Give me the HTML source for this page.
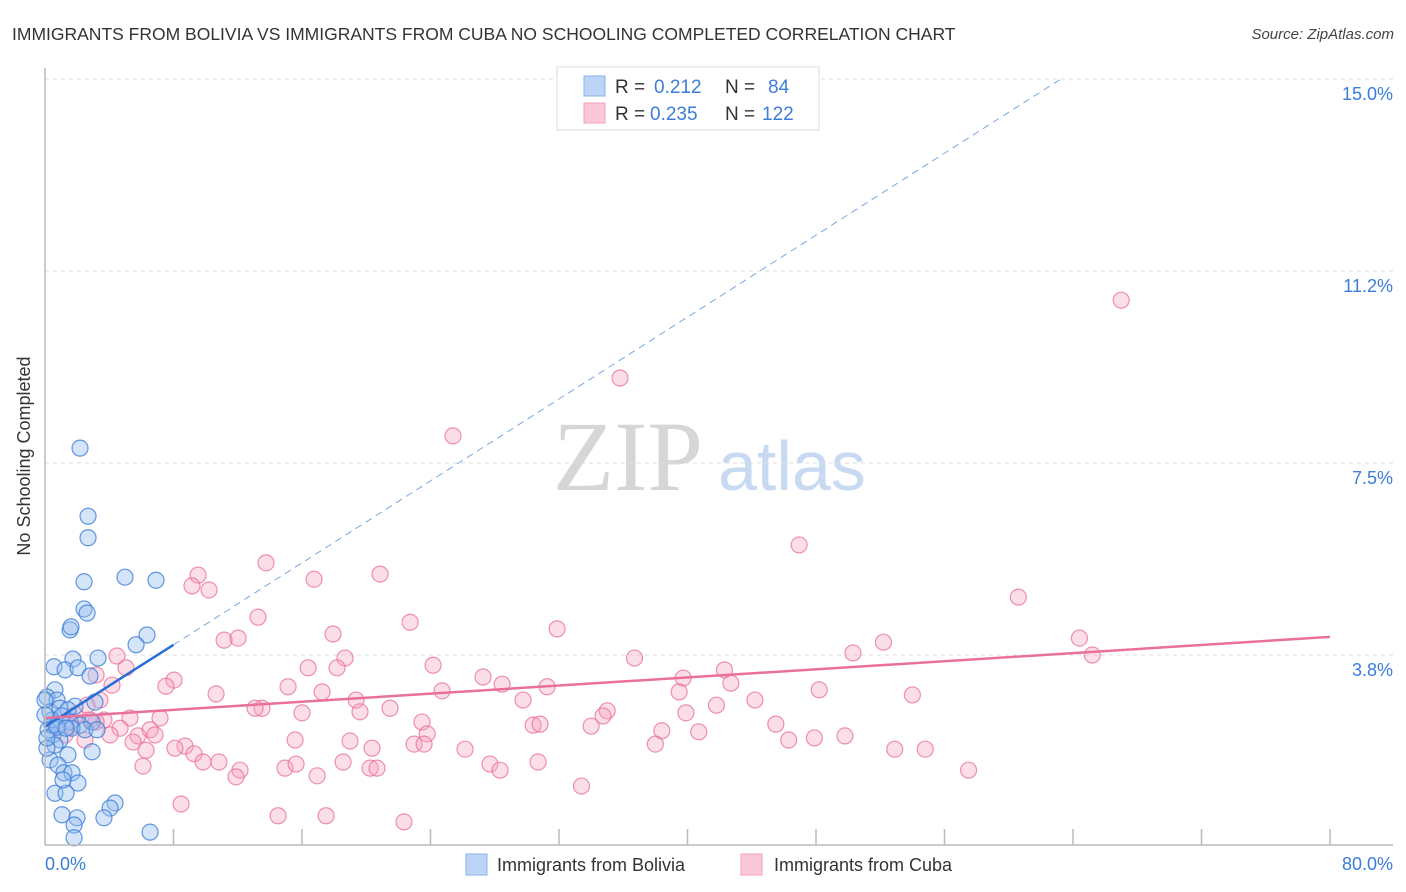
<!DOCTYPE html>
<html><head><meta charset="utf-8"><style>
body{margin:0;background:#fff;font-family:"Liberation Sans",sans-serif}
#c{position:relative;width:1406px;height:892px;overflow:hidden}
svg text{font-family:"Liberation Sans",sans-serif}
</style></head><body>
<div id="c">
<svg id="s" width="1406" height="892" xmlns="http://www.w3.org/2000/svg">
<text x="12" y="40" font-size="17.5" fill="#333">IMMIGRANTS FROM BOLIVIA VS IMMIGRANTS FROM CUBA NO SCHOOLING COMPLETED CORRELATION CHART</text>
<text x="1394" y="39" font-size="15" fill="#444" text-anchor="end" font-style="italic">Source: ZipAtlas.com</text>
<text x="30" y="456" font-size="18" fill="#333" text-anchor="middle" transform="rotate(-90 30 456)">No Schooling Completed</text>
<text x="553" y="490" font-size="100" fill="#d6d6d6" font-family="Liberation Serif" style="font-family:'Liberation Serif',serif">ZIP</text>
<text x="718" y="490" font-size="70" fill="#c8daf2">atlas</text>
<g id="grid"></g><g id="pts"></g><g id="trend"></g>
<line x1="45" y1="68" x2="45" y2="845" stroke="#bbb" stroke-width="1.5"/>
<line x1="45" y1="845" x2="1393" y2="845" stroke="#bbb" stroke-width="1.5"/>
<g id="ticks"></g>
<text x="45" y="870" font-size="18" fill="#3b7dd8">0.0%</text>
<text x="1393" y="870" font-size="18" fill="#3b7dd8" text-anchor="end">80.0%</text>
<g>
<rect x="557" y="67" width="262" height="63" fill="#fff" stroke="#ddd"/>
<rect x="584" y="76" width="21" height="20" fill="#bcd4f5" stroke="#8ab2ea"/>
<rect x="584" y="103" width="21" height="20" fill="#fbc8d8" stroke="#f0a0ba"/>
<text x="615" y="93" font-size="19" fill="#333">R = </text><text x="654" y="93" font-size="19" fill="#3b7dd8">0.212</text>
<text x="725" y="93" font-size="19" fill="#333">N = </text><text x="768" y="93" font-size="19" fill="#3b7dd8">84</text>
<text x="615" y="120" font-size="19" fill="#333">R = </text><text x="650" y="120" font-size="19" fill="#3b7dd8">0.235</text>
<text x="725" y="120" font-size="19" fill="#333">N = </text><text x="762" y="120" font-size="19" fill="#3b7dd8">122</text>
</g>
<g>
<rect x="466" y="854" width="21" height="21" fill="#bcd4f5" stroke="#8ab2ea"/>
<text x="497" y="871" font-size="18" fill="#333">Immigrants from Bolivia</text>
<rect x="741" y="854" width="21" height="21" fill="#fbc8d8" stroke="#f0a0ba"/>
<text x="774" y="871" font-size="18" fill="#333">Immigrants from Cuba</text>
</g>
</svg></div>
<script>
const yTicks=[3.75,7.5,11.25,15];
const yTickLabels=["3.8%","7.5%","11.2%","15.0%"];
const xTicks=[0,8,16,24,32,40,48,56,64,72,80];
const boliviaX=[2.18,2.68,2.68,2.43,4.98,6.91,2.43,2.62,1.56,1.62,6.35,5.67,3.30,1.74,0.56,1.25,2.05,2.80,0.62,0.12,0.75,3.11,1.87,0.31,0.93,1.43,0.44,0.81,1.06,1.56,2.18,2.93,0.19,0.50,0.93,1.68,2.49,3.24,0.62,1.43,2.93,0.31,0.81,1.18,1.68,2.05,0.62,1.31,1.12,4.36,4.05,3.67,1.06,1.99,1.81,6.54,1.81,0.12,0.44,0.75,1.31,0.0,0.0,0.12];
const boliviaY=[7.79,6.46,6.04,5.18,5.27,5.21,4.65,4.57,4.24,4.30,4.14,3.95,3.69,3.67,3.52,3.46,3.50,3.34,3.07,2.93,2.87,2.83,2.75,2.64,2.71,2.68,2.48,2.40,2.56,2.44,2.38,2.44,2.29,2.19,2.09,2.32,2.29,2.29,1.99,1.80,1.86,1.70,1.60,1.45,1.45,1.25,1.05,1.05,1.31,0.86,0.76,0.57,0.63,0.57,0.43,0.29,0.18,1.93,2.38,2.34,2.32,2.87,2.58,2.13];
const cubaX=[67.0,35.8,25.4,46.95,13.76,9.53,9.15,10.21,16.75,20.86,60.6,13.26,22.73,31.88,17.93,11.15,12.02,64.4,52.2,50.3,65.2,36.7,18.68,24.16,16.38,18.18,42.3,4.48,5.04,8.03,7.53,3.18,4.17,15.13,17.25,24.72,27.27,28.46,31.26,39.73,39.48,42.7,48.2,54.0,10.65,19.37,13.51,13.08,16.0,19.61,21.48,29.76,41.8,44.2,39.9,35.0,34.74,23.47,30.39,30.82,34.0,7.16,5.29,3.67,3.18,4.67,6.54,6.85,5.79,15.57,18.99,23.79,22.98,23.6,26.15,20.36,38.4,40.7,45.5,49.8,47.9,46.3,38.0,6.29,5.48,8.72,8.09,9.28,9.84,10.83,12.14,11.89,6.10,14.94,15.63,16.94,18.56,20.24,20.67,27.7,28.33,30.7,52.9,54.8,57.5,33.4,8.47,14.51,17.5,22.35,2.62,3.42,2.80,1.68,1.25,1.87,4.05,2.49];
const cubaY=[10.68,9.16,8.03,5.90,5.55,5.31,5.10,5.02,5.23,5.33,4.88,4.49,4.39,4.26,4.16,4.04,4.08,4.08,4.00,3.79,3.75,3.69,3.69,3.55,3.50,3.50,3.46,3.73,3.50,3.26,3.14,3.36,3.16,3.13,3.03,3.05,3.32,3.18,3.13,3.30,3.03,3.20,3.07,2.97,2.99,2.87,2.71,2.71,2.62,2.64,2.71,2.87,2.77,2.87,2.62,2.66,2.56,2.44,2.38,2.40,2.36,2.52,2.52,2.48,2.44,2.32,2.29,2.19,2.17,2.09,2.07,2.21,2.01,2.01,1.91,1.93,2.27,2.25,2.40,2.17,2.13,2.09,2.01,1.89,2.05,1.97,1.93,1.82,1.66,1.66,1.50,1.37,1.58,1.54,1.62,1.39,1.66,1.54,1.54,1.62,1.50,1.66,1.91,1.91,1.50,1.19,0.84,0.61,0.61,0.49,2.77,2.87,2.48,2.36,2.19,2.58,2.19,2.09];
const boliviaTrend=[2.35,0.2];
const cubaTrend=[2.52,0.0198];
const X=v=>45+v*16.0625, Y=v=>847-v*51.2;
const NS="http://www.w3.org/2000/svg";
function mk(t,a,p){const e=document.createElementNS(NS,t);for(const k in a)e.setAttribute(k,a[k]);p.appendChild(e);return e;}
const grid=document.getElementById('grid');
yTicks.forEach((t,i)=>{
 const l=mk('line',{x1:45,x2:1393,y1:Y(t),y2:Y(t),stroke:'#ddd','stroke-dasharray':'4,4'},grid);
 
 
 const tx=mk('text',{x:1393,y:Y(t)+21,'font-size':18,fill:'#3b7dd8','text-anchor':'end'},grid);
 tx.textContent=yTickLabels[i];
 
 
});
const tk=document.getElementById('ticks');
xTicks.slice(1).forEach(t=>{
 const l=mk('line',{x1:X(t),x2:X(t),y1:829,y2:845,stroke:'#bbb','stroke-width':1.5},tk);
 
 
});
const pts=document.getElementById('pts');
cubaX.forEach((x,i)=>{
 const c=mk('circle',{cx:X(x),cy:Y(cubaY[i]),r:8,fill:'rgba(246,160,190,0.35)',stroke:'rgba(232,110,150,0.75)','stroke-width':1.2},pts);
 
 
});
boliviaX.forEach((x,i)=>{
 const c=mk('circle',{cx:X(x),cy:Y(boliviaY[i]),r:8,fill:'rgba(150,190,240,0.4)',stroke:'rgba(60,125,215,0.8)','stroke-width':1.2},pts);
 
 
});
const tr=document.getElementById('trend');
const bEnd=(15-boliviaTrend[0])/boliviaTrend[1];
let l1=mk('line',{x1:X(8),y1:Y(boliviaTrend[0]+boliviaTrend[1]*8),x2:X(bEnd),y2:Y(15),stroke:'#7aa8e0','stroke-width':1,'stroke-dasharray':'7,5'},tr);


let l2=mk('line',{x1:X(0),y1:Y(boliviaTrend[0]),x2:X(8),y2:Y(boliviaTrend[0]+boliviaTrend[1]*8),stroke:'#2a6fd6','stroke-width':2.5},tr);


let l3=mk('line',{x1:X(0),y1:Y(cubaTrend[0]),x2:X(80),y2:Y(cubaTrend[0]+cubaTrend[1]*80),stroke:'#e8709a','stroke-width':2.5},tr);


</script>
</body></html>
